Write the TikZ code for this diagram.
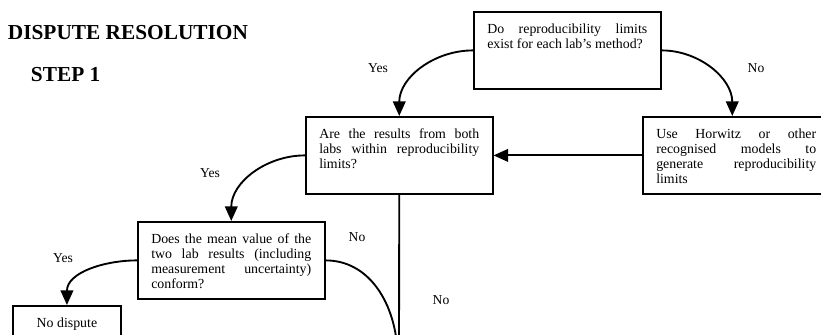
\documentclass[tikz,border=0pt]{standalone}
\usepackage{fontspec}
\setmainfont{Liberation Serif}
\usetikzlibrary{arrows.meta}

\newcommand{\qtext}[2][120pt]{\parbox[c][40.5pt][t]{#1}{\tolerance=10000 #2}}

\begin{document}
\begin{tikzpicture}[x=0.75pt, y=-0.75pt, line width=1.4pt,
	box node/.style={draw, rectangle, anchor=north west, inner xsep=10pt, inner ysep=8.6pt,
		font=\fontsize{10.4pt}{11.25pt}\selectfont},
	label node/.style={font=\fontsize{10.2pt}{12pt}\selectfont},
	title node/.style={anchor=base west, inner sep=0pt, font=\fontsize{16pt}{19pt}\selectfont\bfseries},
	flow arrow/.style={-{Triangle[length=11pt, width=9.5pt]}}]
	
	\useasboundingbox (0,0) rectangle (821,335);
	
	\node[title node] (title) at (7,40) {DISPUTE RESOLUTION};
	\node[title node] (step) at (30,82) {STEP 1};
	
	\node[box node] (q1) at (473,11) {\qtext{Do reproducibility limits\linebreak exist for each lab's method?}};
	\node[box node] (q2) at (305,116) {\qtext{Are the results from both\linebreak labs within reproducibility\linebreak limits?}};
	\node[box node] (q4) at (642,116) {\makebox[114pt][l]{\qtext{Use Horwitz or other\linebreak recognised models to\linebreak generate reproducibility\linebreak limits}}};
	\node[box node] (q3) at (137,221) {\qtext{Does the mean value of the\linebreak two lab results (including\linebreak measurement uncertainty)\linebreak conform?}};
	\node[box node] (q5) at (12,305) {\qtext[61pt]{\centering No dispute}};
	
	\node[label node] (yes1) at (378,68) {Yes};
	\node[label node] (no1) at (756,68) {No};
	\node[label node] (yes2) at (210,173) {Yes};
	\node[label node] (yes3) at (63,258) {Yes};
	\node[label node] (no2) at (357,237) {No};
	\node[label node] (no3) at (441,300) {No};
	
	\coordinate (down1) at (399,345);
	\coordinate (down2) at (397,345);
	
	\draw[flow arrow] (q1.west) to[out=180, in=90] (q2.north);
	\draw[flow arrow] (q1.east) to[out=0, in=90] (q4.north);
	\draw[flow arrow] (q4.west) -- (q2.east);
	\draw[flow arrow] (q2.west) to[out=180, in=90] (q3.north);
	\draw[flow arrow] (q3.west) to[out=180, in=90] (q5.north);
	\draw (q3.east) to[out=0, in=95] (down2);
	\draw (q2.south) -- (down1);
	
\end{tikzpicture}
\end{document}
